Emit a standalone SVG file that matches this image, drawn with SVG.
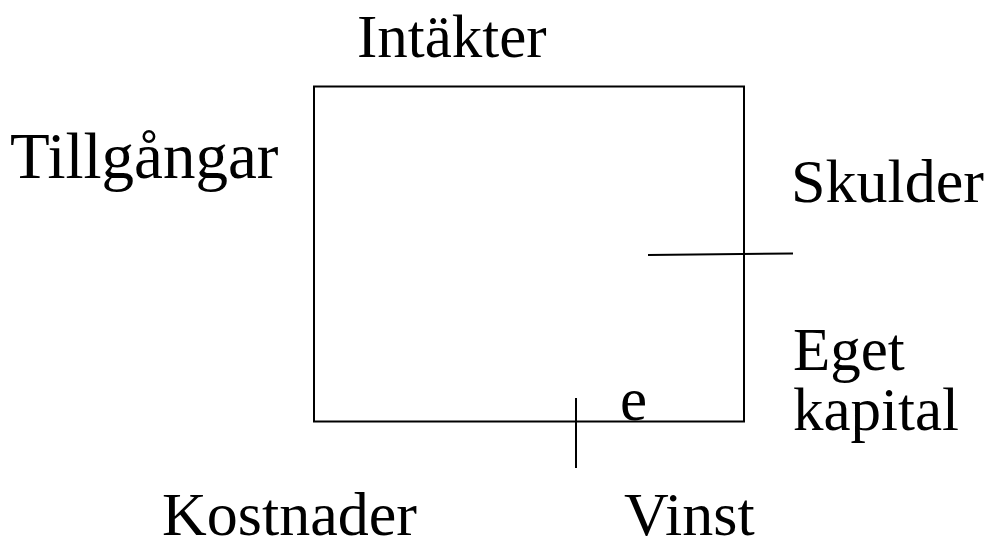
<svg xmlns="http://www.w3.org/2000/svg" width="992" height="542" viewBox="0 0 992 542">
<style>
.t{font-family:"Liberation Serif","Times New Roman",serif;font-size:61px;fill:#000}
.l{stroke:#000;stroke-width:2;fill:none}
</style>
<rect width="992" height="542" fill="#fff"/>
<g id="box"><rect class="l" x="314" y="86.5" width="430" height="335"/></g>
<g id="connectors">
<line class="l" x1="648" y1="255" x2="793" y2="253.5"/>
<line class="l" x1="576" y1="398" x2="576" y2="468"/>
</g>
<g id="labels">
<text class="t" x="357" y="57">Intäkter</text>
<text class="t" x="10" y="178" style="font-size:65px">Tillgångar</text>
<text class="t" x="791" y="202" style="font-size:62px">Skulder</text>
<text class="t" x="793" y="370">Eget</text>
<text class="t" x="793" y="430">kapital</text>
<text class="t" x="620" y="420">e</text>
<text class="t" x="162" y="535" style="font-size:62px">Kostnader</text>
<text class="t" x="624" y="535" style="font-size:62px">Vinst</text>
</g>
</svg>
